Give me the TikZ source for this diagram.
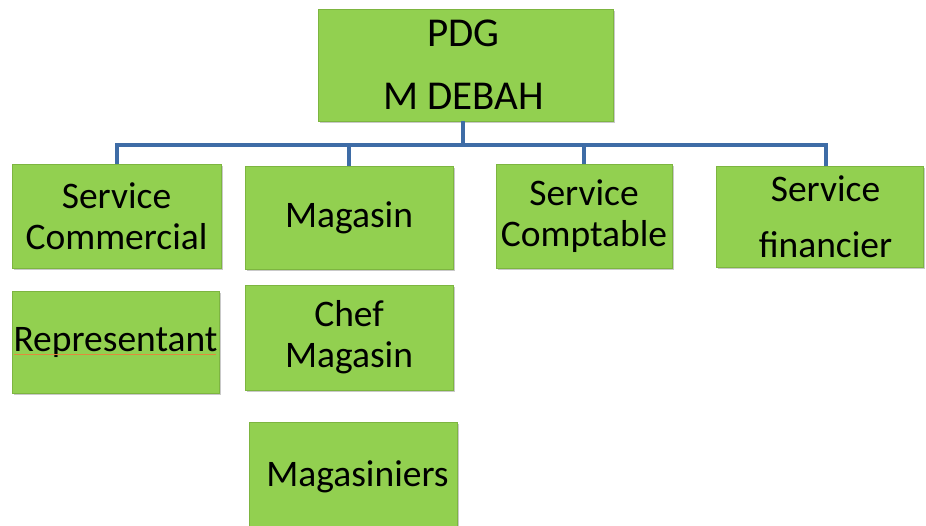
\documentclass[tikz,border=0pt]{standalone}
\usepackage{fontspec}
\setmainfont{Carlito}
\usetikzlibrary{shadows}
\definecolor{boxgreen}{HTML}{92D050}
\definecolor{boxedge}{HTML}{7DB540}
\definecolor{conn}{HTML}{3E6CA6}
\definecolor{squig}{HTML}{E08A3C}
\begin{document}
\begin{tikzpicture}[x=1pt,y=-1pt,
  orgbox/.style={rectangle, fill=boxgreen, draw=boxedge, line width=0.8pt,
    align=center, inner sep=0pt, font=\fontsize{37.5}{41}\selectfont,
    drop shadow={shadow xshift=1.5pt, shadow yshift=-2pt, opacity=0.35, fill=black!60}},
  connline/.style={draw=conn, line width=4pt}]
\useasboundingbox (0,0) rectangle (926,525);
\clip (0,0) rectangle (926,525);
\fill[white] (0,0) rectangle (926,525);
% boxes
\node[orgbox, minimum width=295pt, minimum height=112pt,
  font=\fontsize{41}{63}\selectfont] (pdg) at (465.5,65) {\hspace*{-4pt}PDG\\\hspace*{-4pt}M DEBAH};
\node[orgbox, minimum width=209pt, minimum height=104pt] (sc) at (116.5,216) {Service\\Commercial};
\node[orgbox, minimum width=208pt, minimum height=103pt] (mag) at (349,217.5) {Magasin};
\node[orgbox, minimum width=176pt, minimum height=104pt] (scpt) at (584,216) {Service\\Comptable};
\node[orgbox, minimum width=207pt, minimum height=101pt,
  font=\fontsize{37.5}{56}\selectfont] (sf) at (819.5,216.5) {\hspace*{12pt}Service\\\hspace*{12pt}financier};
\node[orgbox, minimum width=207pt, minimum height=102pt] (rep) at (115.5,342) {Representant};
\node[orgbox, minimum width=208pt, minimum height=105pt] (chef) at (349,337.5) {Chef\\Magasin};
\node[orgbox, minimum width=208pt, minimum height=110pt] (mags) at (353,477) {\hspace*{9pt}Magasiniers};
% spell-check underline
\coordinate (sqa) at (14,354);
\coordinate (sqb) at (216,354);
\draw[squig, line width=0.6pt] (sqa) -- (sqb);
% connectors
\coordinate (bus) at (0,145);
\draw[connline] ([xshift=-2.5pt]pdg.south) -- ([xshift=-2.5pt]pdg.south |- bus);
\draw[connline] (sc.north) -- (sc.north |- bus) -- ([xshift=6.5pt]sf.north |- bus) -- ([xshift=6.5pt]sf.north);
\draw[connline] (mag.north) -- (mag.north |- bus);
\draw[connline] (scpt.north) -- (scpt.north |- bus);
\end{tikzpicture}
\end{document}
